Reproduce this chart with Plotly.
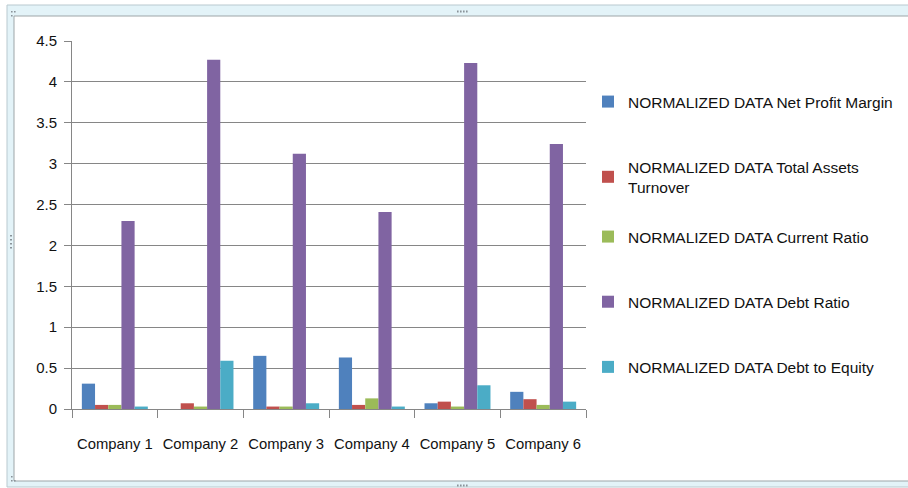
import plotly.graph_objects as go

companies = ["Company 1", "Company 2", "Company 3", "Company 4", "Company 5", "Company 6"]
series_names = [
    "NORMALIZED DATA Net Profit Margin",
    "NORMALIZED DATA Total Assets<br>Turnover",
    "NORMALIZED DATA Current Ratio",
    "NORMALIZED DATA Debt Ratio",
    "NORMALIZED DATA Debt to Equity",
]
net_profit_margin = [0.31, 0.0, 0.65, 0.63, 0.07, 0.21]
total_assets_turnover = [0.05, 0.07, 0.03, 0.05, 0.09, 0.12]
current_ratio = [0.05, 0.03, 0.03, 0.13, 0.03, 0.05]
debt_ratio = [2.30, 4.27, 3.12, 2.41, 4.23, 3.24]
debt_to_equity = [0.03, 0.59, 0.07, 0.03, 0.29, 0.09]
colors = ["#4F81BD", "#C0504D", "#9BBB59", "#8064A2", "#4BACC6"]
y_ticks = [0, 0.5, 1, 1.5, 2, 2.5, 3, 3.5, 4, 4.5]
y_tick_text = ["0", "0.5", "1", "1.5", "2", "2.5", "3", "3.5", "4", "4.5"]

W, H = 908, 488
L, R, T, B = 72, 586, 41, 409

def px(x):
    return (x - L) / (R - L)

def py(y):
    return (B - y) / (B - T)

fig = go.Figure()
legend_of = ["legend", "legend", "legend2", "legend2", "legend2"]
for i, (name, vals) in enumerate(zip(series_names,
        [net_profit_margin, total_assets_turnover, current_ratio, debt_ratio, debt_to_equity])):
    fig.add_trace(go.Bar(x=companies, y=vals, name=name, marker_color=colors[i],
                         marker_line_width=0, legendgroup=str(i), legend=legend_of[i]))

shapes = [
    dict(type="rect", xref="paper", yref="paper", x0=px(7), x1=px(915), y0=py(487), y1=py(5),
         fillcolor="#E3F3F8", line=dict(color="#B9C9CF", width=1), layer="below"),
    dict(type="rect", xref="paper", yref="paper", x0=px(14), x1=px(915), y0=py(481), y1=py(16),
         fillcolor="#FFFFFF", line=dict(color="#9DA5A8", width=1), layer="below"),
]
for xx in [457, 460, 463, 466]:
    shapes.append(dict(type="rect", xref="paper", yref="paper", x0=px(xx), x1=px(xx + 1.6),
                       y0=py(12.5), y1=py(10.5), fillcolor="#8A9399", line_width=0, layer="below"))
    shapes.append(dict(type="rect", xref="paper", yref="paper", x0=px(xx), x1=px(xx + 1.6),
                       y0=py(486.5), y1=py(484.5), fillcolor="#8A9399", line_width=0, layer="below"))
for yy in [235, 239, 243, 247]:
    shapes.append(dict(type="rect", xref="paper", yref="paper", x0=px(10), x1=px(12),
                       y0=py(yy + 1.6), y1=py(yy), fillcolor="#8A9399", line_width=0, layer="below"))
for (xx, yy) in [(11, 11), (14, 11), (11, 15), (11, 476), (11, 480), (14, 480)]:
    shapes.append(dict(type="rect", xref="paper", yref="paper", x0=px(xx), x1=px(xx + 1.6),
                       y0=py(yy + 1.6), y1=py(yy), fillcolor="#8A9399", line_width=0, layer="below"))

legend_common = dict(xanchor="left", yanchor="top", bgcolor="rgba(0,0,0,0)",
                     tracegroupgap=42, font=dict(size=15.5, color="#111111"), itemwidth=30)

fig.update_layout(
    width=W, height=H,
    margin=dict(l=L, r=W - R, t=T, b=H - B, pad=0, autoexpand=False),
    paper_bgcolor="#FFFFFF",
    plot_bgcolor="rgba(0,0,0,0)",
    barmode="group",
    bargap=0.23,
    bargroupgap=0,
    font=dict(family="Liberation Sans, Arial, sans-serif", size=14, color="#111111"),
    shapes=shapes,
    showlegend=True,
    legend=dict(x=px(588), y=py(85), **legend_common),
    legend2=dict(x=px(588), y=py(220), **legend_common),
    xaxis=dict(type="category", showgrid=False, showline=True, linecolor="#868686", linewidth=1,
               ticks="outside", ticklen=8, tickcolor="#868686", tickson="boundaries",
               ticklabelstandoff=21, tickfont=dict(size=14.8), tickangle=0, automargin=False,
               range=[-0.5, 5.5]),
    yaxis=dict(range=[0, 4.5], tickvals=y_ticks, ticktext=y_tick_text, showgrid=True,
               gridcolor="#868686", gridwidth=1, showline=True, linecolor="#868686", linewidth=1,
               ticks="outside", ticklen=7, tickcolor="#868686", zeroline=False, automargin=False,
               tickfont=dict(size=15), ticklabelstandoff=4),
)

fig.write_html("out.html")
